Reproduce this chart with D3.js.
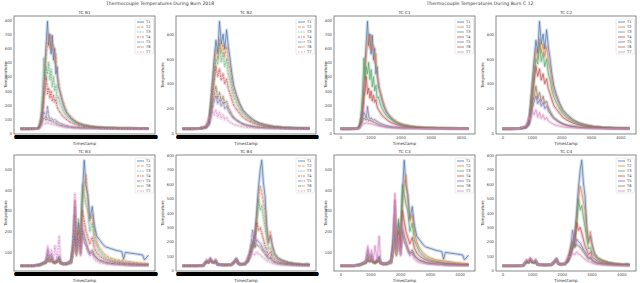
<!DOCTYPE html>
<html>
<head>
<meta charset="utf-8">
<script src="https://cdn.jsdelivr.net/npm/d3@7"></script>
<style>
  body { margin: 0; background: #fff; }
  svg { display: block; font-family: "DejaVu Sans", sans-serif; }
</style>
</head>
<body>
<svg id="chart" width="640" height="283"></svg>
<script>
// sensors + seaborn "deep" colours
const sensors = ['T1', 'T2', 'T3', 'T4', 'T5', 'T6', 'T7'];
const palette = ['#4c72b0', '#dd8452', '#55a868', '#c44e52', '#8172b3', '#937860', '#da8bc3'];
const dashes = ['', '2.8,1', '0.8,0.8', '2,0.9,1,0.9', '3.5,0.7,0.7,0.7', '3.5,0.7,1.4,0.7', '1.4,1.4,2,1'];

const suptitles = [
  'Thermocouple Temperatures During Burn 2018',
  'Thermocouple Temperatures During Burn C 12',
];
const titlesLeft = ['TC B1', 'TC B2', 'TC B3', 'TC B4'];
const titlesRight = ['TC C1', 'TC C2', 'TC C3', 'TC C4'];

const xTicks = [0, 1000, 2000, 3000, 4000];
const yTicks1 = [0, 100, 200, 300, 400, 500, 600, 700, 800];
const yTicks2 = [0, 200, 400, 600, 800];
const yTicks3 = [100, 200, 300, 400, 500];
const yTicks4 = [0, 100, 200, 300, 400, 500, 600, 700, 800];

// panel 1
const x1 = [0, 300, 560, 620, 680, 740, 780, 820, 860, 900, 940, 980, 1020, 1060, 1100, 1140, 1180, 1220, 1260, 1320, 1400, 1480, 1560, 1650, 1750, 1850, 1950, 2100, 2300, 2500, 2800, 3200, 3600, 4000, 4260];
const tc1 = [
  [35, 35, 36, 45, 80, 180, 320, 480, 650, 790, 620, 700, 560, 690, 520, 600, 420, 470, 330, 290, 220, 170, 140, 115, 95, 80, 70, 60, 52, 46, 42, 38, 37, 36, 36],
  [35, 35, 36, 42, 70, 150, 260, 420, 560, 640, 700, 600, 690, 580, 620, 500, 560, 400, 380, 300, 240, 190, 150, 125, 105, 88, 76, 64, 55, 48, 43, 39, 37, 36, 36],
  [35, 35, 36, 50, 120, 300, 532, 380, 470, 420, 500, 380, 450, 330, 400, 300, 340, 250, 260, 210, 170, 140, 120, 106, 90, 78, 68, 58, 50, 45, 41, 38, 37, 36, 36],
  [35, 35, 36, 44, 90, 160, 260, 300, 400, 280, 320, 250, 300, 230, 270, 220, 240, 190, 170, 150, 125, 110, 95, 82, 72, 64, 58, 52, 47, 43, 40, 38, 37, 36, 36],
  [35, 35, 36, 40, 70, 120, 150, 130, 110, 190, 120, 105, 110, 100, 95, 100, 90, 85, 80, 72, 66, 60, 55, 50, 47, 45, 43, 41, 40, 38, 37, 36, 36, 35, 35],
  [35, 35, 36, 40, 60, 90, 110, 100, 95, 105, 90, 95, 88, 85, 80, 78, 72, 68, 64, 58, 54, 50, 46, 44, 42, 41, 40, 39, 38, 37, 36, 36, 35, 35, 35],
  [35, 35, 35, 38, 50, 62, 70, 72, 75, 74, 72, 70, 68, 66, 64, 62, 60, 58, 55, 52, 49, 46, 44, 42, 41, 40, 39, 38, 37, 36, 36, 35, 35, 35, 35],
];

// panel 2
const x2 = [0, 300, 600, 800, 900, 960, 1020, 1080, 1140, 1200, 1260, 1320, 1380, 1440, 1500, 1560, 1620, 1680, 1750, 1850, 1950, 2050, 2200, 2400, 2600, 2800, 3100, 3400, 3800, 4320];
const tc2 = [
  [38, 38, 40, 55, 90, 250, 420, 600, 750, 650, 903, 720, 800, 680, 835, 700, 600, 480, 380, 300, 240, 190, 150, 110, 85, 70, 55, 48, 42, 40],
  [38, 38, 40, 52, 85, 220, 380, 520, 680, 600, 760, 650, 720, 620, 700, 580, 520, 420, 340, 280, 225, 180, 140, 105, 82, 68, 54, 47, 42, 40],
  [38, 38, 40, 50, 80, 200, 340, 480, 600, 560, 728, 580, 650, 540, 600, 480, 430, 350, 290, 240, 195, 160, 125, 95, 76, 63, 52, 46, 41, 40],
  [38, 38, 40, 48, 75, 170, 300, 420, 540, 460, 520, 430, 480, 400, 440, 360, 320, 270, 225, 190, 160, 130, 105, 82, 68, 58, 50, 45, 41, 40],
  [38, 38, 39, 45, 65, 130, 200, 260, 300, 240, 270, 220, 250, 200, 220, 180, 160, 140, 120, 105, 90, 78, 66, 56, 50, 46, 43, 41, 40, 39],
  [38, 38, 39, 50, 110, 160, 250, 300, 380, 280, 330, 260, 300, 240, 260, 210, 180, 150, 125, 105, 88, 75, 63, 54, 48, 45, 42, 40, 39, 38],
  [38, 38, 39, 60, 135, 100, 180, 150, 190, 130, 170, 120, 150, 110, 130, 100, 90, 80, 72, 64, 58, 52, 47, 44, 42, 41, 40, 39, 38, 38],
];

// panel 3
const x3 = [0, 450, 650, 850, 920, 980, 1040, 1100, 1160, 1230, 1300, 1350, 1420, 1550, 1700, 1780, 1830, 1880, 1950, 2020, 2080, 2140, 2200, 2260, 2330, 2410, 2480, 2560, 2650, 2750, 2850, 3000, 3200, 3400, 3460, 3520, 3700, 3900, 4100, 4160, 4300];
const tc3 = [
  [33, 33, 40, 55, 70, 60, 65, 55, 50, 60, 70, 50, 45, 45, 60, 120, 180, 90, 240, 150, 380, 545, 420, 380, 260, 320, 230, 177, 160, 140, 125, 118, 108, 102, 65, 98, 94, 90, 85, 62, 84],
  [33, 33, 38, 50, 65, 58, 62, 52, 48, 55, 60, 48, 44, 44, 55, 100, 150, 80, 220, 140, 330, 430, 473, 360, 250, 280, 200, 150, 120, 100, 85, 72, 62, 58, 57, 56, 52, 48, 45, 44, 44],
  [33, 33, 37, 48, 60, 55, 58, 50, 46, 52, 58, 46, 42, 42, 52, 110, 200, 90, 260, 160, 425, 380, 330, 300, 200, 240, 160, 130, 100, 85, 72, 62, 55, 50, 48, 47, 45, 42, 40, 40, 39],
  [33, 33, 37, 47, 58, 52, 56, 48, 45, 50, 56, 45, 41, 41, 50, 140, 350, 120, 200, 120, 300, 250, 200, 170, 140, 170, 120, 95, 80, 70, 62, 55, 50, 46, 45, 44, 42, 40, 39, 38, 38],
  [33, 33, 36, 50, 113, 70, 90, 55, 50, 60, 80, 48, 42, 42, 48, 200, 321, 110, 160, 90, 200, 150, 130, 110, 90, 100, 80, 70, 60, 55, 50, 45, 42, 40, 39, 38, 37, 36, 35, 35, 35],
  [33, 33, 36, 48, 90, 60, 80, 52, 48, 56, 70, 46, 41, 41, 46, 150, 280, 100, 170, 90, 210, 180, 150, 120, 95, 110, 85, 70, 60, 54, 48, 44, 41, 39, 38, 37, 36, 35, 35, 35, 35],
  [33, 33, 36, 52, 129, 60, 110, 55, 130, 60, 177, 50, 42, 42, 48, 120, 385, 90, 180, 80, 250, 150, 140, 100, 80, 90, 65, 55, 48, 45, 42, 40, 38, 37, 36, 36, 35, 35, 35, 35, 35],
];

// panel 4
const x4 = [0, 500, 700, 760, 820, 880, 940, 1000, 1060, 1120, 1180, 1400, 1650, 1760, 1820, 1880, 1960, 2100, 2200, 2280, 2360, 2440, 2500, 2560, 2620, 2670, 2720, 2780, 2840, 2900, 2960, 3020, 3100, 3200, 3350, 3550, 3800, 4050, 4200, 4280];
const tc4 = [
  [34, 34, 36, 55, 70, 60, 85, 65, 60, 75, 45, 40, 42, 70, 85, 55, 45, 48, 70, 120, 180, 260, 400, 580, 700, 765, 620, 520, 300, 200, 241, 180, 120, 90, 72, 58, 48, 42, 41, 40],
  [34, 34, 36, 52, 65, 58, 80, 62, 58, 70, 44, 40, 42, 65, 80, 52, 44, 47, 68, 110, 170, 240, 360, 500, 586, 540, 480, 420, 280, 190, 270, 170, 115, 88, 72, 58, 48, 43, 41, 40],
  [34, 34, 36, 50, 62, 56, 75, 60, 56, 66, 43, 40, 41, 62, 76, 50, 43, 46, 65, 100, 160, 230, 330, 494, 420, 450, 380, 300, 220, 150, 160, 120, 100, 80, 66, 54, 46, 42, 50, 40],
  [34, 34, 35, 48, 60, 55, 72, 58, 55, 64, 42, 39, 41, 60, 74, 48, 42, 45, 60, 95, 150, 200, 333, 280, 300, 260, 220, 170, 140, 110, 130, 95, 80, 66, 56, 48, 43, 40, 39, 39],
  [34, 34, 35, 48, 60, 56, 70, 58, 54, 62, 42, 39, 41, 58, 72, 47, 42, 45, 70, 130, 280, 160, 218, 200, 190, 170, 150, 130, 110, 90, 95, 75, 62, 54, 48, 43, 40, 38, 37, 37],
  [34, 34, 35, 50, 66, 58, 78, 60, 56, 68, 43, 39, 41, 62, 78, 48, 42, 46, 80, 150, 200, 170, 180, 170, 160, 150, 130, 115, 95, 80, 85, 68, 58, 50, 45, 41, 38, 37, 36, 36],
  [34, 34, 35, 55, 80, 62, 92, 66, 60, 78, 44, 39, 41, 66, 82, 50, 43, 47, 100, 90, 120, 110, 130, 115, 110, 100, 90, 80, 70, 62, 60, 52, 47, 43, 40, 38, 37, 36, 35, 35],
];

const panels = [
  { xs: x1, ys: tc1, yTicks: yTicks1 },
  { xs: x2, ys: tc2, yTicks: yTicks2 },
  { xs: x3, ys: tc3, yTicks: yTicks3 },
  { xs: x4, ys: tc4, yTicks: yTicks4 },
];

// layout of the 2x2 grid inside each half
const cells = [
  { x0: 14, x1: 155, y0: 16, y1: 134, yl: -8.5 },
  { x0: 176, x1: 316, y0: 16, y1: 134, yl: -13 },
  { x0: 14, x1: 155, y0: 155, y1: 271, yl: -8.5 },
  { x0: 176, x1: 316, y0: 155, y1: 271, yl: -13 },
];

const halves = [
  { ox: 0, title: suptitles[0], names: titlesLeft, timeAxis: true },
  { ox: 320, title: suptitles[1], names: titlesRight, timeAxis: false },
];

const svg = d3.select('#chart');
const start = new Date(2018, 9, 12, 10, 0, 0);
const fmtTime = d3.timeFormat('%-M:%S');
let clipId = 0;

halves.forEach(half => {
  svg
    .append('text')
    .attr('x', half.ox + 160)
    .attr('y', 5)
    .attr('text-anchor', 'middle')
    .attr('font-size', '4.6px')
    .attr('fill', '#333')
    .text(half.title);

  cells.forEach((cell, i) => {
    const p = panels[i];
    const w = cell.x1 - cell.x0;
    const h = cell.y1 - cell.y0;
    const g = svg
      .append('g')
      .attr('transform', `translate(${half.ox + cell.x0},${cell.y0})`);

    const xMin = d3.min(p.xs);
    const xMax = d3.max(p.xs);
    const xPad = (xMax - xMin) * 0.05;
    const xScale = d3
      .scaleLinear()
      .domain([xMin - xPad, xMax + xPad])
      .range([0, w]);

    const all = p.ys.flat();
    const yMin = d3.min(all);
    const yMax = d3.max(all);
    const yPad = (yMax - yMin) * 0.05;
    const yScale = d3
      .scaleLinear()
      .domain([yMin - yPad, yMax + yPad])
      .range([h, 0]);

    const id = 'clip' + clipId++;
    g.append('clipPath')
      .attr('id', id)
      .append('rect')
      .attr('width', w)
      .attr('height', h);

    const line = d3
      .line()
      .x((d, k) => xScale(p.xs[k]))
      .y(d => yScale(d));

    const plot = g.append('g').attr('clip-path', `url(#${id})`);

    // soft bands behind the lines
    plot
      .selectAll('path.band')
      .data(p.ys)
      .enter()
      .append('path')
      .attr('class', 'band')
      .attr('d', line)
      .attr('fill', 'none')
      .attr('stroke', (d, k) => palette[k])
      .attr('stroke-width', 3.2)
      .attr('stroke-opacity', 0.25)
      .attr('stroke-linejoin', 'round');

    plot
      .selectAll('path.series')
      .data(p.ys)
      .enter()
      .append('path')
      .attr('class', 'series')
      .attr('d', line)
      .attr('fill', 'none')
      .attr('stroke', (d, k) => palette[k])
      .attr('stroke-width', 0.7)
      .attr('stroke-dasharray', (d, k) => (half.timeAxis ? dashes[k] : null))
      .attr('stroke-linejoin', 'round');

    // y axis
    const yAxis = d3
      .axisLeft(yScale)
      .tickValues(p.yTicks)
      .tickSize(0)
      .tickPadding(2);
    const ya = g.append('g').call(yAxis);
    ya.select('.domain').remove();
    ya.attr('font-family', null);
    ya.selectAll('text').attr('font-size', '3.8px').attr('fill', '#444');

    // x axis: dense timestamp labels merge into a black band on the left half
    let xAxis;
    if (half.timeAxis) {
      xAxis = d3
        .axisBottom(xScale)
        .tickValues(d3.range(0, xMax + 1, 10))
        .tickFormat(d => fmtTime(new Date(start.getTime() + d * 1000)))
        .tickSize(0)
        .tickPadding(1);
    } else {
      xAxis = d3
        .axisBottom(xScale)
        .tickValues(xTicks)
        .tickFormat(d3.format('d'))
        .tickSize(0)
        .tickPadding(2.2);
    }
    const xa = g
      .append('g')
      .attr('transform', `translate(0,${h})`)
      .call(xAxis);
    xa.select('.domain').remove();
    xa.attr('font-family', null);
    xa.selectAll('text')
      .attr('font-size', half.timeAxis ? '5.5px' : '3.8px')
      .attr('font-weight', half.timeAxis ? 'bold' : null)
      .attr('fill', half.timeAxis ? '#000' : '#444');

    // frame
    g.append('rect')
      .attr('width', w)
      .attr('height', h)
      .attr('fill', 'none')
      .attr('stroke', '#555')
      .attr('stroke-width', 0.7);

    // labels
    g.append('text')
      .attr('x', w / 2)
      .attr('y', -2)
      .attr('text-anchor', 'middle')
      .attr('font-size', '4.2px')
      .attr('fill', '#333')
      .text(half.names[i]);

    g.append('text')
      .attr('transform', `translate(${cell.yl},${h / 2}) rotate(-90)`)
      .attr('text-anchor', 'middle')
      .attr('dy', '0.35em')
      .attr('font-size', '4px')
      .attr('fill', '#333')
      .text('Temperature');

    g.append('text')
      .attr('x', w / 2)
      .attr('y', h + 11)
      .attr('text-anchor', 'middle')
      .attr('font-size', '4.2px')
      .attr('fill', '#333')
      .text('Timestamp');

    // legend
    const lg = g.append('g').attr('transform', `translate(${w - 20},3)`);
    lg.append('rect')
      .attr('width', 18.5)
      .attr('height', 35)
      .attr('rx', 1)
      .attr('fill', '#fff')
      .attr('fill-opacity', 0.8)
      .attr('stroke', '#ccc')
      .attr('stroke-width', 0.4);
    const items = lg
      .selectAll('g.item')
      .data(sensors)
      .enter()
      .append('g')
      .attr('class', 'item')
      .attr('transform', (d, k) => `translate(0,${3 + k * 5})`);
    items
      .append('line')
      .attr('x1', 2)
      .attr('x2', 9)
      .attr('stroke', (d, k) => palette[k])
      .attr('stroke-width', 0.8)
      .attr('stroke-dasharray', (d, k) => (half.timeAxis ? dashes[k] : null));
    items
      .append('text')
      .attr('x', 11)
      .attr('dy', '0.35em')
      .attr('font-size', '3.6px')
      .attr('fill', '#333')
      .text(d => d);
  });
});
</script>
</body>
</html>
